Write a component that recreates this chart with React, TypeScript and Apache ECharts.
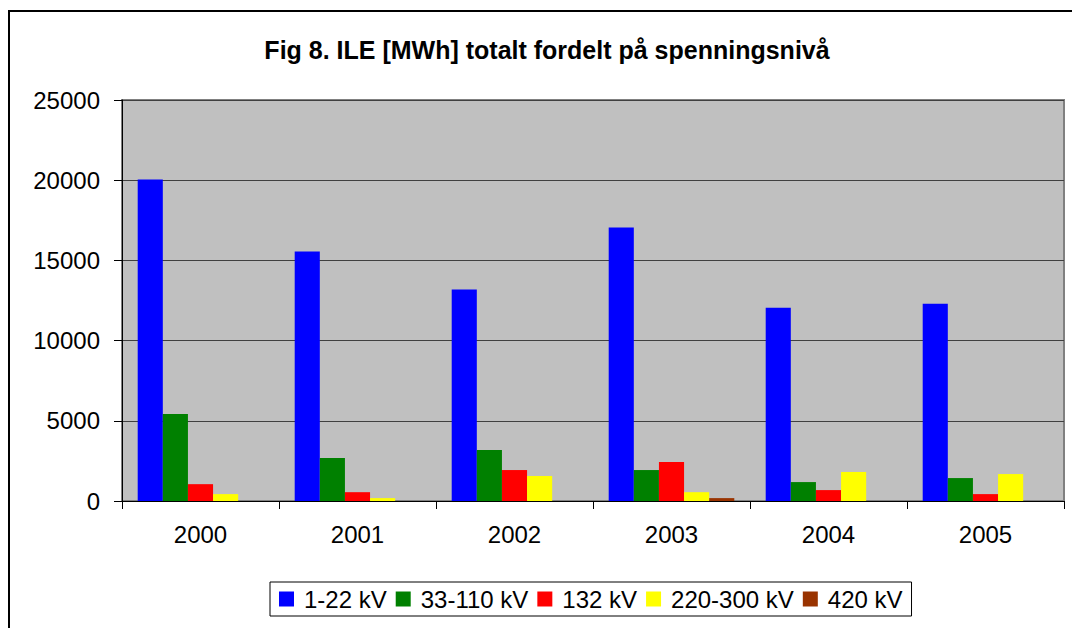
import React, { useEffect, useRef } from "react";
import * as echarts from "echarts";

const categories = ["2000", "2001", "2002", "2003", "2004", "2005"];
const seriesNames = ["1-22 kV", "33-110 kV", "132 kV", "220-300 kV", "420 kV"];
const kv1_22 = [20050, 15550, 13180, 17050, 12050, 12300];
const kv33_110 = [5430, 2680, 3180, 1930, 1180, 1430];
const kv132 = [1050, 550, 1930, 2430, 680, 430];
const kv220_300 = [430, 180, 1560, 550, 1810, 1680];
const kv420 = [0, 0, 0, 180, 0, 0];
const yTicks = [0, 5000, 10000, 15000, 20000, 25000];
const colors = ["#0000FF", "#008000", "#FF0000", "#FFFF00", "#993300"];
const titleText = "Fig 8. ILE [MWh] totalt fordelt på spenningsnivå";

const FONT = "'Liberation Sans', Arial, sans-serif";

export default function App() {
  const ref = useRef<HTMLDivElement>(null);
  useEffect(() => {
    if (!ref.current) return;
    const chart = echarts.init(ref.current, null, { renderer: "svg" });
    const data = [kv1_22, kv33_110, kv132, kv220_300, kv420];
    chart.setOption({
      animation: false,
      backgroundColor: "#ffffff",
      textStyle: { fontFamily: FONT },
      graphic: [
        {
          type: "rect",
          shape: { x: 9, y: 11, width: 1100, height: 700 },
          style: { fill: "none", stroke: "#000", lineWidth: 2 },
          silent: true,
          z: 0,
        },
        {
          type: "text",
          style: {
            text: titleText,
            x: 547,
            y: 50,
            textAlign: "center",
            textVerticalAlign: "middle",
            fontFamily: FONT,
            fontWeight: "bold",
            fontSize: 25,
            fill: "#000",
          },
          z: 10,
        },
      ],
      grid: {
        left: 122,
        right: 8,
        top: 100,
        bottom: 127,
        show: true,
        backgroundColor: "#C0C0C0",
        borderColor: "#808080",
        borderWidth: 2,
      },
      legend: {
        data: seriesNames,
        left: 270,
        top: 582,
        orient: "horizontal",
        padding: [5, 9, 5, 9],
        itemGap: 9,
        itemWidth: 15,
        itemHeight: 15,
        icon: "rect",
        borderColor: "#000",
        borderWidth: 1,
        textStyle: {
          fontFamily: FONT,
          fontSize: 24,
          color: "#000",
          padding: [0, 0, 0, 5],
        },
      },
      xAxis: {
        type: "category",
        data: categories,
        axisLine: { show: true, lineStyle: { color: "#000", width: 1 } },
        axisTick: { show: true, alignWithLabel: false, length: 8, lineStyle: { color: "#000" } },
        axisLabel: { fontFamily: FONT, fontSize: 24, color: "#000", margin: 21 },
        splitLine: { show: false },
      },
      yAxis: {
        type: "value",
        min: yTicks[0],
        max: yTicks[yTicks.length - 1],
        interval: yTicks[1] - yTicks[0],
        axisLine: { show: true, lineStyle: { color: "#000", width: 1 } },
        axisTick: { show: true, length: 8, lineStyle: { color: "#000" } },
        axisLabel: {
          fontFamily: FONT,
          fontSize: 24,
          color: "#000",
          margin: 22,
          formatter: (v: number) => String(v),
        },
        splitLine: { show: true, lineStyle: { color: "#404040", width: 1 } },
      },
      series: seriesNames.map((name, i) => ({
        name,
        type: "bar",
        data: data[i],
        barGap: "0%",
        barCategoryGap: "20%",
        itemStyle: { color: colors[i] },
      })),
    });
    return () => chart.dispose();
  }, []);
  return (
    <div
      ref={ref}
      style={{ position: "absolute", left: 0, top: 0, width: 1072, height: 628 }}
    />
  );
}
